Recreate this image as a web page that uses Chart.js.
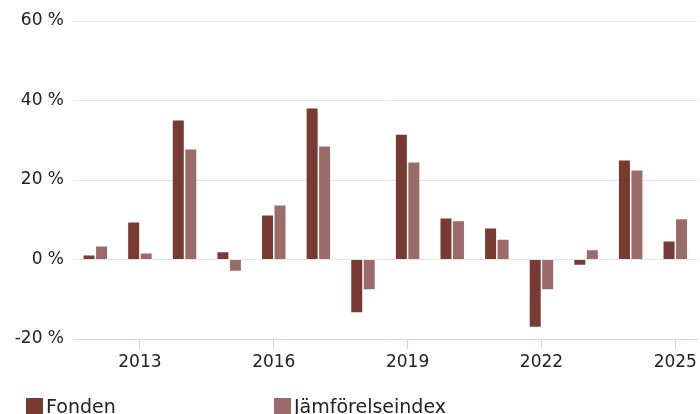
<!DOCTYPE html>
<html>
<head>
<meta charset="utf-8">
<script src="https://cdn.jsdelivr.net/npm/chart.js@4"></script>
<style>
    html, body { margin: 0; padding: 0; background: #fff; }
    #wrap { width: 700px; height: 414px; position: relative; }
</style>
</head>
<body>
<div id="wrap"><canvas id="myChart" width="700" height="414"></canvas></div>
<script>
var years = ['2012', '2013', '2014', '2015', '2016', '2017', '2018', '2019', '2020', '2021', '2022', '2023', '2024', '2025'];
var fonden = [1.0, 9.3, 35.0, 1.8, 11.1, 38.0, -13.3, 31.4, 10.3, 7.8, -16.9, -1.3, 24.9, 4.5];
var jamforelseindex = [3.3, 1.5, 27.7, -2.8, 13.6, 28.4, -7.5, 24.4, 9.6, 5.0, -7.5, 2.3, 22.4, 10.1];
var seriesNames = ['Fonden', 'Jämförelseindex'];
var yTicks = [-20, 0, 20, 40, 60];

var fontFamily = '"DejaVu Sans", Verdana, sans-serif';
var colors = ['#7a3a34', '#9b6b69'];

// legend drawn by hand so it can sit where the original puts it
var legendPlugin = {
    id: 'bottomLegend',
    afterDraw: function (chart) {
        var ctx = chart.ctx;
        var items = [{ x: 26 }, { x: 274 }];
        ctx.save();
        ctx.font = '19px ' + fontFamily;
        ctx.textBaseline = 'middle';
        ctx.textAlign = 'left';
        items.forEach(function (item, i) {
            ctx.fillStyle = colors[i];
            ctx.fillRect(item.x, 398, 17, 17);
            ctx.fillStyle = '#222';
            ctx.fillText(seriesNames[i], item.x + 20, 408);
        });
        ctx.restore();
    }
};

var chartContext = document.getElementById('myChart').getContext('2d');

new Chart(chartContext, {
    type: 'bar',
    data: {
        labels: years,
        datasets: [{
            label: seriesNames[0],
            data: fonden,
            backgroundColor: colors[0],
            categoryPercentage: 0.56,
            barPercentage: 0.88
        }, {
            label: seriesNames[1],
            data: jamforelseindex,
            backgroundColor: colors[1],
            categoryPercentage: 0.56,
            barPercentage: 0.88
        }]
    },
    options: {
        responsive: false,
        animation: false,
        layout: {
            padding: { left: 0, right: 2, top: 21, bottom: 35 }
        },
        scales: {
            x: {
                afterFit: function (scale) { scale.height = 40; },
                grid: {
                    offset: false,
                    drawOnChartArea: false,
                    tickLength: 10,
                    color: function (c) {
                        var y = parseInt(years[c.index], 10);
                        return (y - 2013) % 3 === 0 ? '#ccd6eb' : 'rgba(0,0,0,0)';
                    }
                },
                border: { color: '#ccd6eb', width: 1 },
                ticks: {
                    autoSkip: false,
                    maxRotation: 0,
                    padding: 3,
                    color: '#222',
                    font: { family: fontFamily, size: 17 },
                    callback: function (value, index) {
                        var y = parseInt(years[index], 10);
                        return (y - 2013) % 3 === 0 ? years[index] : '';
                    }
                }
            },
            y: {
                min: -20,
                max: 60,
                afterFit: function (scale) { scale.width = 73; },
                afterBuildTicks: function (scale) {
                    scale.ticks = yTicks.map(function (v) { return { value: v }; });
                },
                grid: {
                    color: '#e6e6e6',
                    drawTicks: false
                },
                border: { display: false },
                ticks: {
                    padding: 9,
                    color: '#222',
                    font: { family: fontFamily, size: 17 },
                    callback: function (value) { return value + ' %'; }
                }
            }
        },
        plugins: {
            legend: { display: false },
            tooltip: { enabled: false }
        }
    },
    plugins: [legendPlugin]
});
</script>
</body>
</html>
